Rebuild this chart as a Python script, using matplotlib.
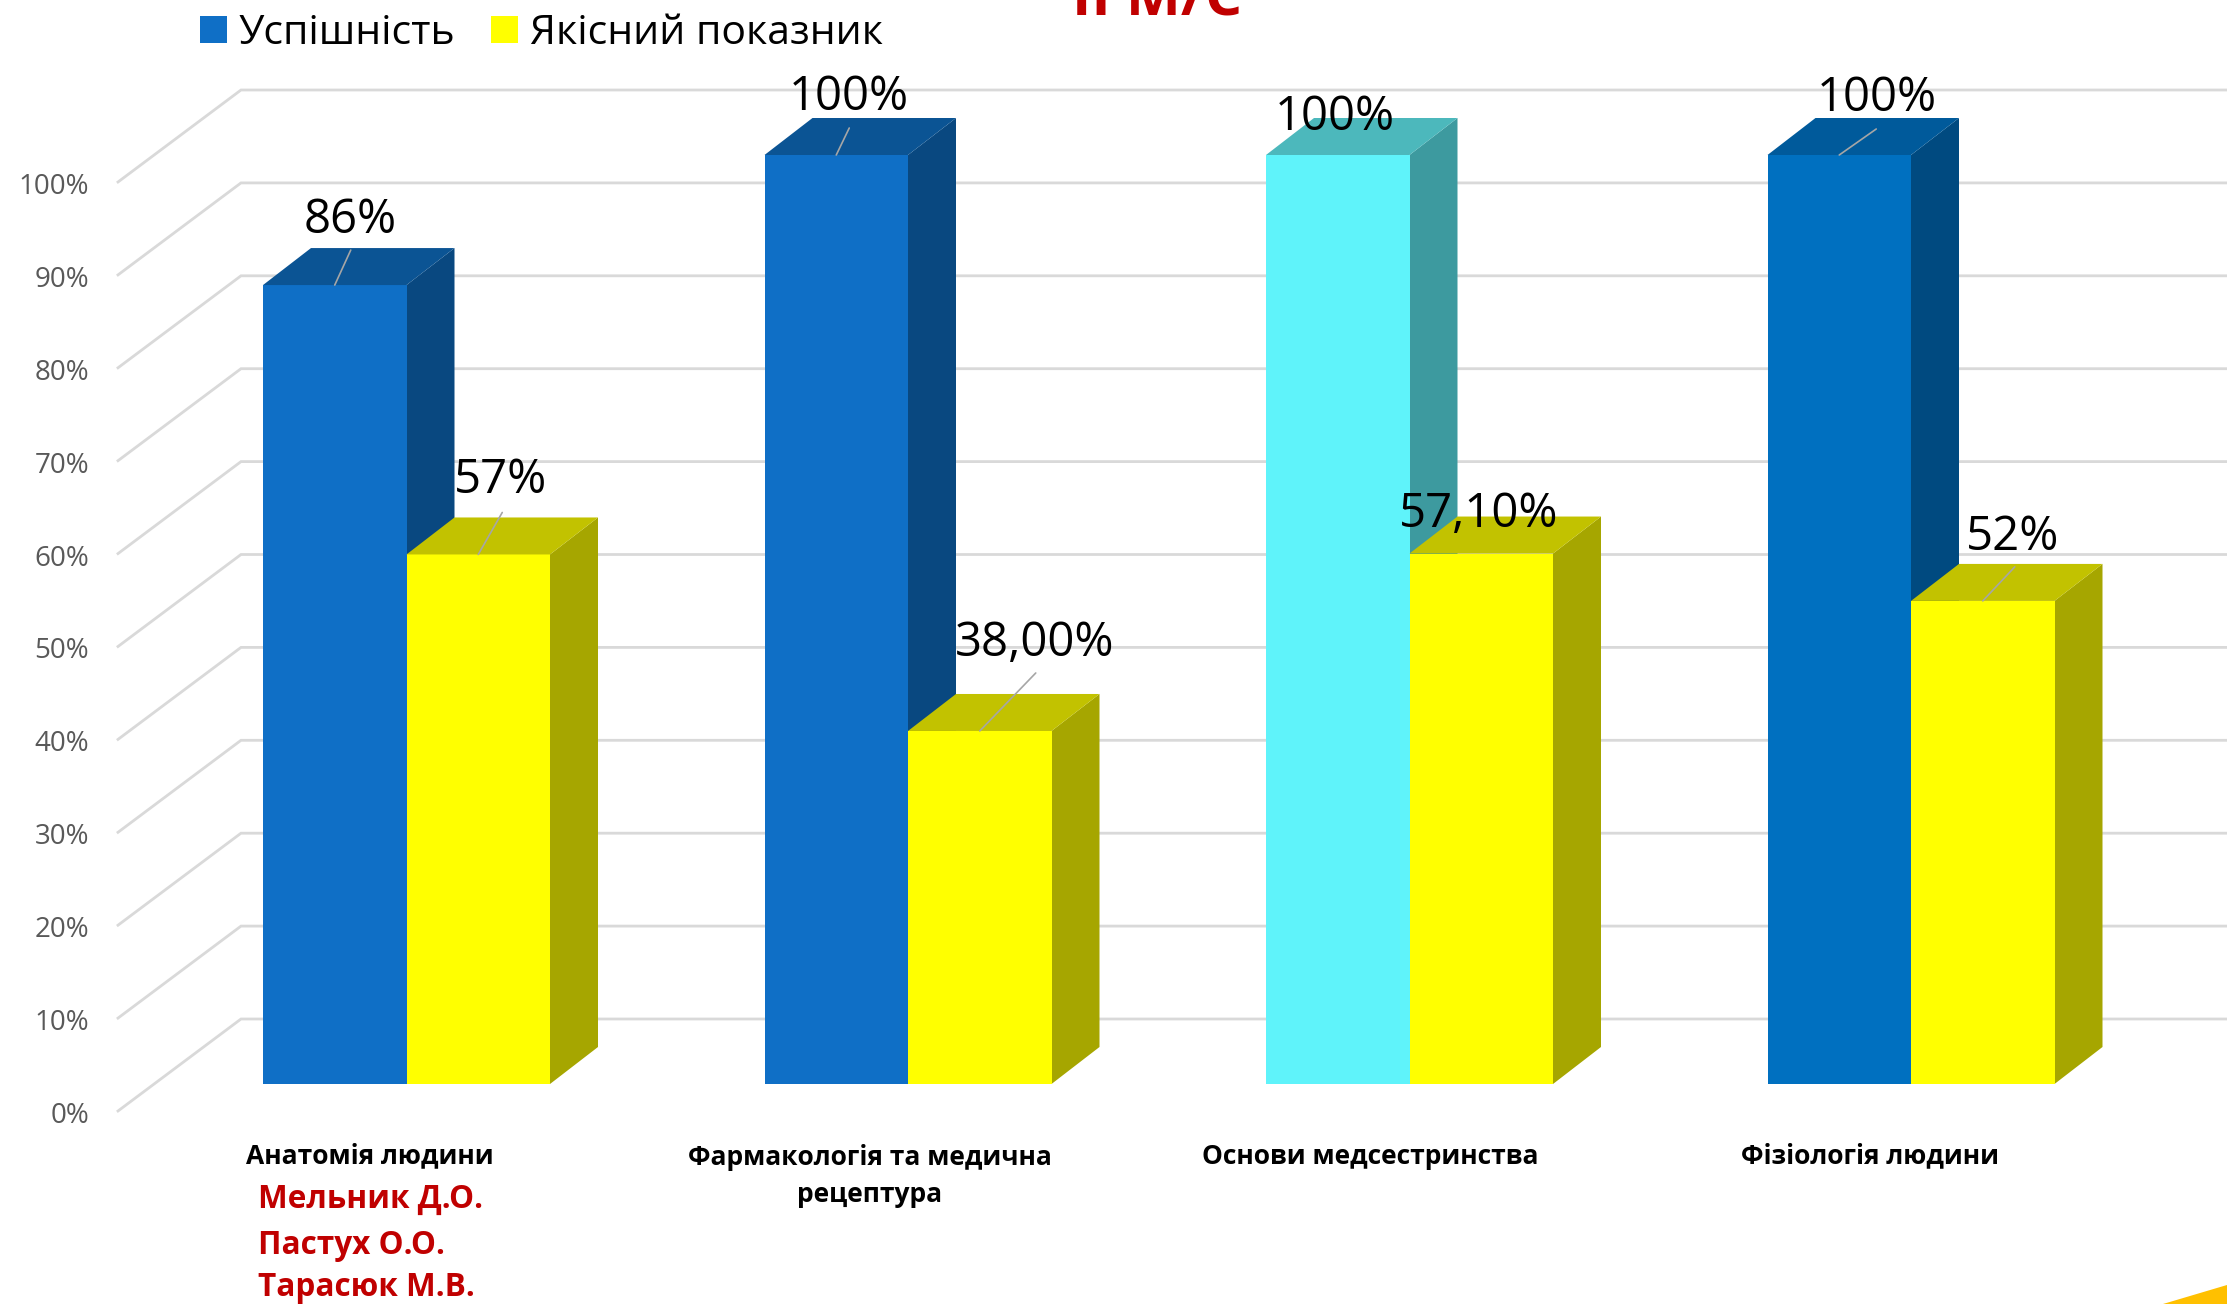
import matplotlib
matplotlib.use('Agg')
import matplotlib.pyplot as plt

W, H = 2227, 1304

subjects = ['Анатомія людини', 'Фармакологія та медична\nрецептура', 'Основи медсестринства', 'Фізіологія людини']
success = [86, 100, 100, 100]
quality = [57, 38, 57.1, 52]
success_labels = ['86%', '100%', '100%', '100%']
quality_labels = ['57%', '38,00%', '57,10%', '52%']
teachers = ['Мельник Д.О.', 'Пастух О.О.', 'Тарасюк М.В.']
ticks = list(range(0, 101, 10))

# pixel layout of the 3d look
PX_PER_PCT = 9.29
PX_PER_GROUP = 501.5
BASE_Y = 1084
GROUP0_X = 406.5
BAR_W = 143.5 / PX_PER_GROUP
DEPTH_X = 48 / PX_PER_GROUP
DEPTH_Y = 37 / PX_PER_PCT

success_colors = ['#0F6FC6', '#0F6FC6', '#5FF3FA', '#0070C0']
success_tops = ['#0B5494', '#0B5494', '#4CB8BC', '#005A9B']
success_sides = ['#094880', '#094880', '#3D9A9F', '#004A80']
yellow, yellow_top, yellow_side = '#FFFF00', '#C2C200', '#A6A600'

plt.rcParams['font.family'] = ['Open Sans', 'DejaVu Sans']

fig = plt.figure(figsize=(W / 100, H / 100), dpi=100)
ax = fig.add_axes([0, 0, 1, 1])
ax.set_xlim(-GROUP0_X / PX_PER_GROUP, (W - GROUP0_X) / PX_PER_GROUP)
ax.set_ylim((BASE_Y - H) / PX_PER_PCT, BASE_Y / PX_PER_PCT)
ax.axis('off')


def px(x, y):
    return x / W, 1 - y / H


# floor and back wall grid
floor_left = -(GROUP0_X - 118) / PX_PER_GROUP
back_left = -(GROUP0_X - 241) / PX_PER_GROUP
back_right = (W - GROUP0_X) / PX_PER_GROUP
front_off = -27 / PX_PER_PCT
back_off = 65 / PX_PER_PCT
for t in ticks:
    ax.plot([floor_left, back_left, back_right], [t + front_off, t + back_off, t + back_off],
            color='#D9D9D9', lw=2, solid_joinstyle='miter', zorder=1)
    ax.text(floor_left - 29 / PX_PER_GROUP, t + front_off - 5 / PX_PER_PCT, '%d%%' % t, ha='right', va='center',
            fontsize=20, color='#595959')


def draw_box(x0, val, front, top, side):
    ax.bar(x0, val, BAR_W, align='edge', color=front, zorder=3)
    x1 = x0 + BAR_W
    ax.fill([x0, x1, x1 + DEPTH_X, x0 + DEPTH_X], [val, val, val + DEPTH_Y, val + DEPTH_Y], color=top, lw=0, zorder=3)
    ax.fill([x1, x1 + DEPTH_X, x1 + DEPTH_X, x1], [0, DEPTH_Y, val + DEPTH_Y, val], color=side, lw=0, zorder=2.5)


for i in range(len(subjects)):
    draw_box(i - BAR_W, success[i], success_colors[i], success_tops[i], success_sides[i])
    draw_box(i, quality[i], yellow, yellow_top, yellow_side)

# leader lines, offset in pixels from the bar top centre
s_lead = [(16, 35), (13, 27), None, (37, 26)]
q_lead = [(24, 42), (56, 58), None, (32, 34)]
# label offsets in pixels from the bar top centre
s_text = [(15, 65), (13, 58), (-3, 38), (38, 57)]
q_text = [(22, 74), (55, 88), (-3, 39), (30, 64)]

for i in range(len(subjects)):
    for x, val, lab, lead, off in [(i - BAR_W / 2, success[i], success_labels[i], s_lead[i], s_text[i]),
                                   (i + BAR_W / 2, quality[i], quality_labels[i], q_lead[i], q_text[i])]:
        if lead:
            ax.annotate('', xy=(x, val), xytext=lead, textcoords='offset pixels',
                        arrowprops=dict(arrowstyle='-', color='#A6A6A6', lw=1.2, shrinkA=0, shrinkB=0), zorder=5)
        ax.annotate(lab, xy=(x, val), xytext=off, textcoords='offset pixels', ha='center', va='center',
                    fontsize=34, color='black', zorder=6)

# category labels
cat_x = [370, 870, 1370, 1870]
for i, name in enumerate(subjects):
    x, y = px(cat_x[i], 1156 if '\n' not in name else 1176)
    fig.text(x, y, name, ha='center', va='center', fontsize=19, fontweight='bold', color='black', linespacing=1.5)

# teachers
for name, yy in zip(teachers, [1199, 1245, 1288]):
    x, y = px(258, yy)
    fig.text(x, y, name, ha='left', va='center', fontsize=22.7, fontweight='bold', color='#C00000')

# legend
for col, lab, bx in [('#0F6FC6', 'Успішність', 200), ('#FFFF00', 'Якісний показник', 491)]:
    ax.add_patch(plt.Rectangle(px(bx, 43), 27 / W, 27 / H, transform=fig.transFigure, color=col, lw=0))
    x, y = px(bx + 39, 34)
    fig.text(x, y, lab, ha='left', va='center', fontsize=29.5, color='black')

# title runs off the top edge, same as the slide
x, y = px(1157, 0)
fig.text(x, y, 'ІІ М/С', ha='center', va='center', fontsize=42, fontweight='bold', color='#C00000')

# yellow corner of the slide
cx = [px(2227, 1304)[0], px(2163, 1304)[0], px(2227, 1285)[0]]
cy = [px(2227, 1304)[1], px(2163, 1304)[1], px(2227, 1285)[1]]
ax.fill(cx, cy, color='#FFC000', lw=0, zorder=2, transform=fig.transFigure)

fig.savefig('out.png', dpi=100)
